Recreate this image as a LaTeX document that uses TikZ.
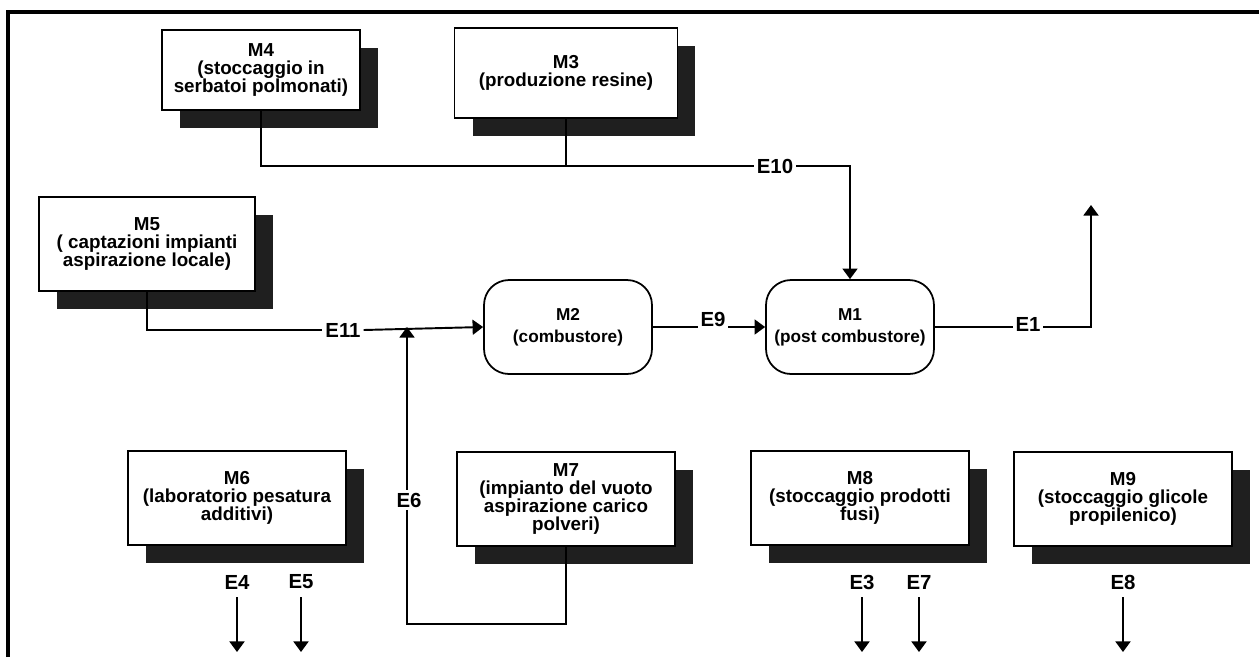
\documentclass[tikz,border=0pt]{standalone}
\usepackage{fontspec}
\setmainfont{Liberation Sans}
\usetikzlibrary{arrows.meta,shadows}

\tikzset{
	macchina/.style={draw, line width=1pt, fill=white, align=center,
		minimum width=4.36cm, minimum height=1.88cm,
		drop shadow={shadow xshift=0.36cm, shadow yshift=-0.36cm, fill=black!88, opacity=1}},
	bruciatore/.style={draw, line width=1pt, fill=white, align=center, rounded corners=0.5cm,
		minimum width=3.36cm, minimum height=1.88cm, inner xsep=2pt,
		font=\fontsize{9.8}{12.5}\selectfont\bfseries},
	emissione/.style={inner sep=1.5pt, font=\fontsize{11.6}{12}\selectfont\bfseries},
	flusso/.style={line width=1.1pt},
	freccia/.style={flusso, -{Triangle[width=8.5pt,length=6pt]}},
}

\begin{document}
\begin{tikzpicture}[x=0.02cm, y=-0.02cm, font=\fontsize{10.7}{10.4}\selectfont\bfseries]
		\useasboundingbox (0,0) rectangle (1259,657);
		% Cornice
		\draw[line width=1.8pt] (8,657) -- (8,12) -- (1259,12);
		% Macchine superiori
		\node[macchina, minimum width=3.96cm, minimum height=1.6cm] (M4) at (261,70)
			{M4\\(stoccaggio in\\serbatoi polmonati)};
		\node[macchina, minimum width=4.46cm, minimum height=1.8cm] (M3) at (566,73)
			{M3\\(produzione resine)};
		\node[macchina, minimum width=4.32cm] (M5) at (147,244)
			{M5\\( captazioni impianti\\aspirazione locale)};
		% Combustori
		\node[bruciatore] (M2) at (568,327) {M2\\(combustore)};
		\node[bruciatore] (M1) at (850,327) {M1\\(post combustore)};
		% Macchine inferiori
		\node[macchina] (M6) at (237,498) {M6\\(laboratorio pesatura\\additivi)};
		\node[macchina] (M7) at (566,499) {M7\\(impianto del vuoto\\aspirazione carico\\polveri)};
		\node[macchina] (M8) at (860,498) {M8\\(stoccaggio prodotti\\fusi)};
		\node[macchina] (M9) at (1123,499) {M9\\(stoccaggio glicole\\propilenico)};
		% Emissioni convogliate
		\node[emissione] (E10) at (775,166) {E10};
		\node[emissione] (E11) at (343,330) {E11};
		\node[emissione] (E9) at (713,319) {E9};
		\node[emissione] (E1) at (1028,324) {E1};
		\node[emissione] (E6) at (409,500) {E6};
		\coordinate (innesto) at (407,327);
		\coordinate (angolo) at (407,624);
		\coordinate (camino) at (1091,205);
		\draw[flusso] (M4.south) |- (E10.west);
		\draw[flusso] (M3.south) -- (M3.south |- E10.west);
		\draw[freccia] (E10.east) -| (M1.north);
		\draw[flusso] (M5.south) |- (E11.west);
		\draw[freccia] (E11.east) -- (M2.west);
		\draw[flusso] (M7.south) |- (angolo) -- (angolo |- E6.south);
		\draw[freccia] (angolo |- E6.north) -- (innesto);
		\draw[flusso] (M2.east) -- (M2.east -| E9.west);
		\draw[freccia] (M1.west -| E9.east) -- (M1.west);
		\draw[flusso] (M1.east) -- (M1.east -| E1.west);
		\draw[freccia] (M1.east -| E1.east) -| (camino);
		% Emissioni verso l'esterno
		\foreach \nome/\x in {E4/237, E5/301, E3/862, E7/919, E8/1123} {
			\node[emissione] (\nome) at (\x,582) {\nome};
			\coordinate (\nome fine) at (\x,652);
			\draw[freccia] (\nome.south) ++(0,-3pt) -- (\nome fine);
		}
	\end{tikzpicture}
\end{document}
